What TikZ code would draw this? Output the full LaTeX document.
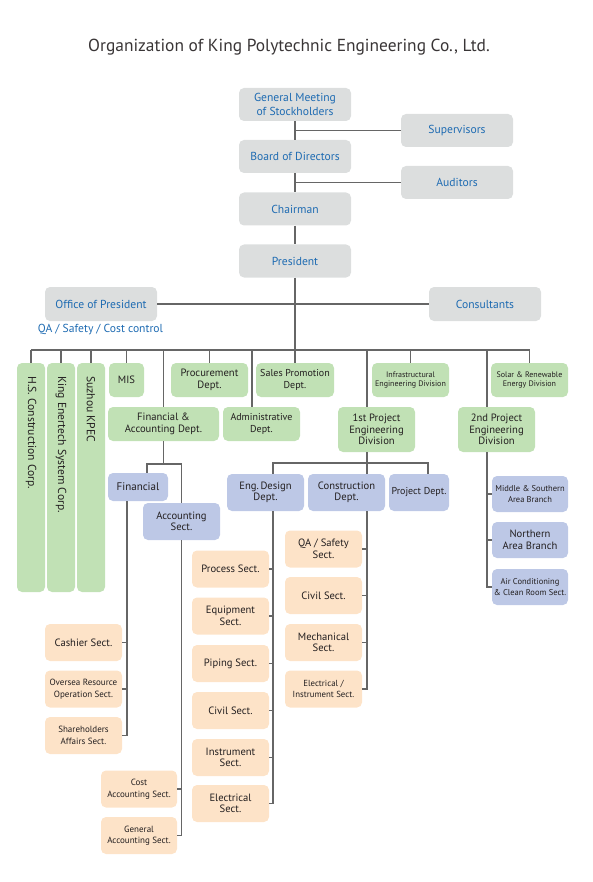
\documentclass[tikz,border=0pt]{standalone}
\usepackage{fontspec}
\setmainfont{PT Sans}
\usepackage{tikz}

\definecolor{boxgray}{HTML}{DCDEDE}
\definecolor{orgblue}{HTML}{1E6BB2}
\definecolor{boxgreen}{HTML}{C1E1B5}
\definecolor{boxblue}{HTML}{BDC8E6}
\definecolor{boxpeach}{HTML}{FDE3C8}
\definecolor{linegray}{HTML}{666666}
\definecolor{txtdark}{HTML}{231F20}

\tikzset{
  box/.style={rounded corners=5pt, align=center, inner sep=1pt, text=txtdark,
    font=\fontsize{10.6}{11.5}\selectfont},
  graybox/.style={box, fill=boxgray, text=orgblue, minimum width=112pt, minimum height=33pt,
    font=\fontsize{11.6}{14}\selectfont},
  greenbox/.style={box, fill=boxgreen},
  bluebox/.style={box, fill=boxblue},
  peachbox/.style={box, fill=boxpeach, minimum width=77pt, minimum height=37pt},
  smalltext/.style={font=\fontsize{9}{11.5}\selectfont},
  tinytext/.style={font=\fontsize{8}{8.5}\selectfont},
  conn/.style={draw=linegray, line width=1.4pt},
}

\begin{document}
\begin{tikzpicture}[x=1pt,y=-1pt]
        \useasboundingbox (0,0) rectangle (592,882);
        \node[font=\fontsize{17.4}{19}\selectfont, text=txtdark!90] (title) at (289,47) {Organization of King Polytechnic Engineering Co., Ltd.};
        % top of the chart
        \node[graybox] (gms) at (295,104.5) {General Meeting\\of Stockholders};
        \node[graybox] (sup) at (457,130.5) {Supervisors};
        \node[graybox] (bod) at (295,156.5) {Board of Directors};
        \node[graybox] (aud) at (457,182.5) {Auditors};
        \node[graybox] (chair) at (295,209) {Chairman};
        \node[graybox] (pres) at (295,261) {President};
        \node[graybox, minimum height=34pt] (office) at (101,304) {Office of President};
        \node[graybox, minimum height=34pt] (cons) at (485,304) {Consultants};
        \node[text=orgblue, font=\fontsize{11.6}{13}\selectfont] (qa) at (100.5,330) {QA / Safety / Cost control};
        \draw[conn] (gms) -- (bod);
        \draw[conn] (bod) -- (chair);
        \draw[conn] (chair) -- (pres);
        \draw[conn] (sup.west) -- (sup.west -| gms.south);
        \draw[conn] (aud.west) -- (aud.west -| bod.south);
        \draw[conn] (office.east) -- (office.east -| pres.south);
        \draw[conn] (cons.west) -- (cons.west -| pres.south);

        % departments
        \node[greenbox, minimum width=28pt, minimum height=229pt] (hs) at (31,477.5) {};
        \node[greenbox, minimum width=28pt, minimum height=229pt] (king) at (61,477.5) {};
        \node[greenbox, minimum width=28pt, minimum height=229pt] (suz) at (91,477.5) {};
        \node[rotate=-90, anchor=west, font=\fontsize{11.6}{12}\selectfont, text=txtdark] (hstext) at ([yshift=-10pt]hs.north) {H.S. Construction Corp.};
        \node[rotate=-90, anchor=west, font=\fontsize{11.6}{12}\selectfont, text=txtdark] (kingtext) at ([yshift=-10pt]king.north) {King Enertech System Corp.};
        \node[rotate=-90, anchor=west, font=\fontsize{11.6}{12}\selectfont, text=txtdark] (suztext) at ([yshift=-10pt]suz.north) {Suzhou KPEC};
        \node[greenbox, minimum width=35pt, minimum height=34pt] (mis) at (126.5,380) {MIS};
        \node[greenbox, minimum width=77pt, minimum height=34pt] (proc) at (209.5,380) {Procurement\\Dept.};
        \node[greenbox, minimum width=78pt, minimum height=34pt, font=\fontsize{10}{11.5}\selectfont] (sales) at (295,380) {Sales Promotion\\Dept.};
        \node[greenbox, minimum width=77pt, minimum height=34pt, tinytext] (infra) at (410.5,380) {Infrastructural\\Engineering Division};
        \node[greenbox, minimum width=77pt, minimum height=34pt, tinytext] (solar) at (529.5,380) {Solar \& Renewable\\Energy Division};
        \node[greenbox, minimum width=111pt, minimum height=34pt] (fa) at (163.5,424) {Financial \&\\Accounting Dept.};
        \node[greenbox, minimum width=77pt, minimum height=34pt, font=\fontsize{10}{11.5}\selectfont] (adm) at (261.5,424) {Administrative\\Dept.};
        \node[greenbox, minimum width=77pt, minimum height=45pt] (p1) at (376.5,429.5) {1st Project\\Engineering\\Division};
        \node[greenbox, minimum width=77pt, minimum height=45pt] (p2) at (496.5,429.5) {2nd Project\\Engineering\\Division};

        \coordinate (bus) at (0,350);
        \coordinate (cnx) at (367,0);
        \coordinate (p2x) at (487,0);
        \draw[conn] (pres) -- (sales);
        \draw[conn] (hs.north |- bus) -- (solar.north |- bus);
        \foreach \d in {hs,king,suz,mis,proc,infra,solar,fa}
          \draw[conn] (\d.north) -- (\d.north |- bus);
        \draw[conn] ([xshift=-9.5pt]adm.north) -- ([xshift=-9.5pt]adm.north |- bus);
        \draw[conn] (cnx |- p1.north) -- (cnx |- bus);
        \draw[conn] (p2x |- p2.north) -- (p2x |- bus);

        % financial & accounting
        \node[bluebox, minimum width=60pt, minimum height=28pt, font=\fontsize{11}{12}\selectfont] (fin) at (138,487) {Financial};
        \node[bluebox, minimum width=77pt, minimum height=37pt] (acc) at (181.5,521.5) {Accounting\\Sect.};
        \node[peachbox, font=\fontsize{10.6}{12}\selectfont] (cash) at (83.5,642.5) {Cashier Sect.};
        \node[peachbox, smalltext] (ovs) at (83.5,689) {Oversea Resource\\Operation Sect.};
        \node[peachbox, smalltext] (sha) at (83.5,735.5) {Shareholders\\Affairs Sect.};
        \node[peachbox, minimum width=76pt, smalltext] (cost) at (139,789) {Cost\\Accounting Sect.};
        \node[peachbox, minimum width=76pt, smalltext] (gen) at (139,835.5) {General\\Accounting Sect.};
        \coordinate (brF) at (0,464);
        \coordinate (finx) at (127,0);
        \draw[conn] (fa.south) -- (fa.south |- brF);
        \draw[conn] ([xshift=9pt]fin.north) |- (acc.north |- brF) -- (acc.north);
        \draw[conn] (finx |- fin.south) |- (sha.east);
        \foreach \s in {cash,ovs}
          \draw[conn] (\s.east) -- (\s.east -| finx);
        \draw[conn] (acc.south) |- (gen.east);
        \draw[conn] (cost.east) -- (cost.east -| acc.south);

        % 1st project engineering division
        \node[bluebox, minimum width=77pt, minimum height=37pt] (eds) at (265.5,492.5) {Eng.\,Design\\Dept.};
        \node[bluebox, minimum width=77pt, minimum height=37pt] (con) at (346.5,492.5) {Construction\\Dept.};
        \node[bluebox, minimum width=60pt, minimum height=37pt, font=\fontsize{10}{11}\selectfont] (pd) at (419,492.5) {Project Dept.};
        \node[peachbox] (prs) at (230.5,569) {Process Sect.};
        \node[peachbox] (eqs) at (230.5,616) {Equipment\\Sect.};
        \node[peachbox] (pps) at (230.5,663.5) {Piping Sect.};
        \node[peachbox] (cvs) at (230.5,710.5) {Civil Sect.};
        \node[peachbox] (ins) at (230.5,757.5) {Instrument\\Sect.};
        \node[peachbox] (els) at (230.5,803.5) {Electrical\\Sect.};
        \node[peachbox] (qas) at (323.5,549) {QA / Safety\\Sect.};
        \node[peachbox] (cv2) at (323.5,595.5) {Civil Sect.};
        \node[peachbox] (mcs) at (323.5,642.5) {Mechanical\\Sect.};
        \node[peachbox, font=\fontsize{8.8}{11}\selectfont] (eis) at (323.5,689) {Electrical /\\Instrument Sect.};
        \coordinate (br1) at (0,463);
        \coordinate (edx) at (273,0);
        \coordinate (pdx) at (428,0);
        \draw[conn] (cnx |- p1.south) -- (cnx |- con.north);
        \draw[conn] (edx |- eds.north) |- (pdx |- br1) -- (pdx |- pd.north);
        \draw[conn] (edx |- eds.south) |- (els.east);
        \foreach \s in {prs,eqs,pps,cvs,ins}
          \draw[conn] (\s.east) -- (\s.east -| edx);
        \draw[conn] (cnx |- con.south) |- (eis.east);
        \foreach \s in {qas,cv2,mcs}
          \draw[conn] (\s.east) -- (\s.east -| cnx);

        % 2nd project engineering division
        \node[bluebox, minimum width=76pt, minimum height=36pt, font=\fontsize{8.5}{11}\selectfont] (msb) at (530,494) {Middle \& Southern\\Area Branch};
        \node[bluebox, minimum width=76pt, minimum height=36pt] (nab) at (530,540) {Northern\\Area Branch};
        \node[bluebox, minimum width=76pt, minimum height=36pt, font=\fontsize{8.5}{11}\selectfont] (acr) at (530,587) {Air Conditioning\\\& Clean Room Sect.};
        \draw[conn] (p2x |- p2.south) |- (acr.west);
        \foreach \s in {msb,nab}
          \draw[conn] (\s.west) -- (\s.west -| p2x);
      \end{tikzpicture}
\end{document}
